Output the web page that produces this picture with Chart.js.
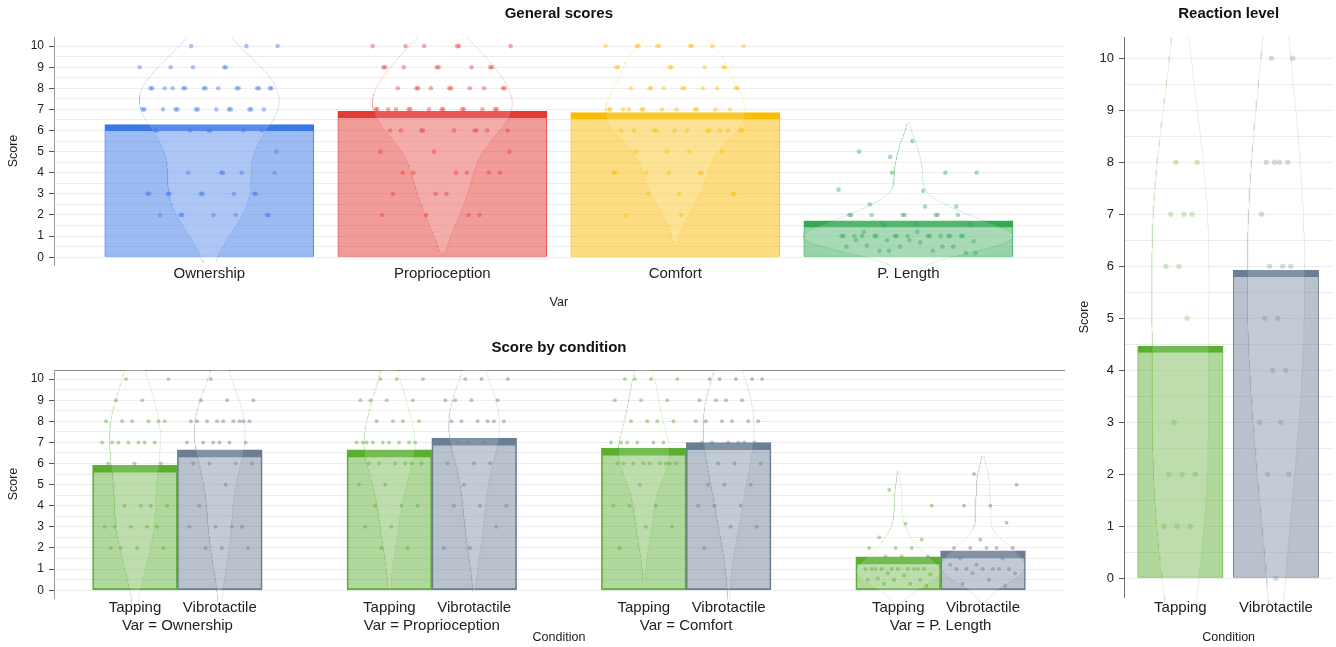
<!DOCTYPE html>
<html>
<head>
<meta charset="utf-8">
<title>Scores</title>
<script src="https://cdn.jsdelivr.net/npm/chart.js@4.4.1/dist/chart.umd.min.js"></script>
<style>
  html, body { margin: 0; padding: 0; background: #ffffff; }
  #wrap { position: relative; width: 1336px; height: 647px; overflow: hidden; }
  #wrap canvas { position: absolute; }
</style>
</head>
<body>
<div id="wrap">
  <canvas id="general" width="1066" height="320" style="left:0px;top:0px"></canvas>
  <canvas id="byCondition" width="1066" height="317" style="left:0px;top:330px"></canvas>
  <canvas id="reaction" width="270" height="647" style="left:1066px;top:0px"></canvas>
</div>
<script>
// ---- categories and tick labels ----
const varNames = ['Ownership', 'Proprioception', 'Comfort', 'P. Length'];
const conditionNames = ['Tapping', 'Vibrotactile'];
const scoreTicks = [0, 1, 2, 3, 4, 5, 6, 7, 8, 9, 10];

// ---- individual answers per variable and condition ----
const ownershipTapping = [10, 10, 9, 9, 8, 8, 8, 8, 8, 8, 7, 7, 7, 7, 7, 7, 7, 6, 6, 6, 4, 4, 4, 4, 3, 3, 3, 3, 3, 2, 2, 2, 2];
const ownershipVibrotactile = [10, 9, 9, 9, 8, 8, 8, 8, 8, 8, 8, 8, 8, 7, 7, 7, 7, 7, 7, 6, 6, 6, 6, 5, 4, 3, 3, 3, 3, 2, 2, 2];
const proprioceptionTapping = [10, 10, 10, 9, 9, 9, 9, 8, 8, 8, 8, 7, 7, 7, 7, 7, 7, 7, 7, 7, 6, 6, 6, 6, 6, 6, 5, 5, 4, 4, 4, 3, 3, 2, 2];
const proprioceptionVibrotactile = [10, 10, 10, 9, 9, 9, 9, 8, 8, 8, 8, 8, 8, 7, 7, 7, 7, 7, 6, 6, 6, 5, 4, 4, 4, 3, 2, 2];
const comfortTapping = [10, 10, 10, 10, 9, 9, 9, 8, 8, 8, 8, 7, 7, 7, 7, 7, 7, 6, 6, 6, 6, 6, 6, 6, 6, 6, 5, 4, 4, 4, 3, 3, 2];
const comfortVibrotactile = [10, 10, 10, 10, 10, 9, 9, 9, 9, 8, 8, 8, 8, 8, 8, 7, 7, 7, 7, 7, 7, 6, 6, 6, 5, 5, 5, 4, 4, 4, 3, 3, 2];
const lengthTapping = [4.75, 4.0, 3.15, 2.5, 2.4, 2.0, 2.0, 2.0, 1.6, 1.6, 1.6, 1.0, 1.0, 1.0, 1.0, 1.0, 1.0, 1.0, 1.0, 1.0, 1.0, 0.8, 0.75, 0.7, 0.55, 0.5, 0.5, 0.5, 0.3, 0.3, 0.2];
const lengthVibrotactile = [5.5, 5.0, 4.0, 4.0, 3.2, 2.4, 2.0, 2.0, 2.0, 2.0, 2.0, 1.5, 1.5, 1.2, 1.2, 1.0, 1.0, 1.0, 1.0, 1.0, 1.0, 0.8, 0.8, 0.5, 0.3, 0.2];
const reactionTapping = [8, 8, 7, 7, 7, 6, 6, 5, 3, 2, 2, 2, 1, 1, 1];
const reactionVibrotactile = [10, 10, 8, 8, 8, 8, 7, 6, 6, 6, 5, 5, 4, 4, 3, 3, 2, 2, 0];

// ---- bar heights (mean scores) ----
const generalMeans = [6.30, 6.93, 6.86, 1.74];
const tappingMeans = [5.92, 6.65, 6.73, 1.58];
const vibrotactileMeans = [6.65, 7.20, 6.99, 1.86];
const reactionMeans = [4.47, 5.93];

// ---- styling ----
const FONT = '"Liberation Sans", Arial, Helvetica, sans-serif';
const varColors = ['#3b78e7', '#e53935', '#fbbc04', '#34a853'];
const conditionColors = ['#5aae30', '#6a7e95'];
const conditionOffsets = [-1 / 6, 1 / 6];
const generalViolinWidth = [0.30, 0.30, 0.30, 0.45];
const conditionViolinWidth = [0.10, 0.10, 0.10, 0.165];
const reactionViolinWidth = 0.30;
const KDE_BANDWIDTH_SCALE = 1.35;   // smoothing factor applied to the rule-of-thumb bandwidth
const KDE_CUT = 1.5;                // how many bandwidths the outline extends past the data
const BAR_BORDER = { top: 7, right: 1, bottom: 1, left: 1 };

Chart.defaults.font.family = FONT;
Chart.defaults.color = '#222222';
Chart.defaults.animation = false;

function rgba(hex, a) {
  const n = parseInt(hex.slice(1), 16);
  return 'rgba(' + (n >> 16) + ',' + ((n >> 8) & 255) + ',' + (n & 255) + ',' + a + ')';
}

// integer ticks carry labels; half steps only add a grid line
const halfSteps = scoreTicks.flatMap(v => v < scoreTicks[scoreTicks.length - 1] ? [v, v + 0.5] : [v]);

// Gaussian kernel density of a group, mirrored around its category position
function violinOutline(values, center, halfWidth) {
  const n = values.length;
  const sorted = values.slice().sort((a, b) => a - b);
  const mean = sorted.reduce((s, v) => s + v, 0) / n;
  const sd = Math.sqrt(sorted.reduce((s, v) => s + (v - mean) * (v - mean), 0) / (n - 1));
  const quant = p => {
    const h = (n - 1) * p, lo = Math.floor(h);
    return sorted[lo] + (sorted[Math.min(lo + 1, n - 1)] - sorted[lo]) * (h - lo);
  };
  const iqr = quant(0.75) - quant(0.25);
  const spread = iqr > 0 ? Math.min(sd, iqr / 1.34) : sd;
  const bw = KDE_BANDWIDTH_SCALE * 1.06 * spread * Math.pow(n, -0.2);
  const lo = sorted[0] - KDE_CUT * bw, hi = sorted[n - 1] + KDE_CUT * bw;
  const steps = 120;
  const ys = [], ds = [];
  for (let k = 0; k <= steps; k++) {
    const y = lo + (hi - lo) * k / steps;
    let d = 0;
    for (const v of sorted) { const z = (y - v) / bw; d += Math.exp(-0.5 * z * z); }
    ys.push(y); ds.push(d);
  }
  const dMax = Math.max(...ds);
  const right = ys.map((y, k) => ({ x: center + halfWidth * ds[k] / dMax, y }));
  const left = ys.map((y, k) => ({ x: center - halfWidth * ds[k] / dMax, y })).reverse();
  return right.concat(left);
}

// evenly spread horizontal offsets so equal answers do not sit on top of each other
function stripPoints(values, center, spread) {
  return values.map((v, i) => ({ x: center + spread * (2 * ((i * 0.6180339887 + 0.37) % 1) - 1), y: v }));
}

function violinDataset(values, center, halfWidth, color, alpha, xAxisID) {
  return {
    type: 'line', xAxisID, yAxisID: 'y',
    data: violinOutline(values, center, halfWidth),
    borderColor: rgba(color, alpha), borderWidth: 1,
    backgroundColor: 'rgba(255,255,255,0.16)', fill: 'shape',
    pointRadius: 0, pointHitRadius: 0, tension: 0,
    clip: { left: 0, top: 0, right: 0, bottom: 10 },
    order: 2
  };
}

function pointDataset(values, center, spread, color, radius, alpha, xAxisID) {
  return {
    type: 'line', xAxisID, yAxisID: 'y',
    data: stripPoints(values, center, spread),
    showLine: false, fill: false,
    pointRadius: radius, pointBorderWidth: 0, pointHoverRadius: radius,
    pointBackgroundColor: rgba(color, alpha), backgroundColor: rgba(color, alpha),
    borderColor: 'rgba(0,0,0,0)',
    order: 1
  };
}

function scoreAxis(min, max, width, tickSize, titlePad, axisColor) {
  return {
    type: 'linear', position: 'left', min, max, bounds: 'data',
    afterBuildTicks: s => { s.ticks = halfSteps.map(v => ({ value: v })); },
    afterFit: s => { s.width = width; },
    ticks: {
      autoSkip: false, padding: 5, color: '#222222', font: { size: tickSize },
      callback: v => Number.isInteger(v) ? String(v) : ''
    },
    grid: {
      color: '#ececec', lineWidth: 1, drawTicks: true, tickLength: 5,
      tickColor: c => (c.tick && Number.isInteger(c.tick.value)) ? '#555555' : 'rgba(0,0,0,0)'
    },
    border: { display: true, color: axisColor, width: 1 },
    title: { display: true, text: 'Score', color: '#222222', font: { size: 12.5 }, padding: { top: titlePad, bottom: 0 } }
  };
}

function categoryAxis(min, max, positions, labels, height, pad, title, titleBottom, position) {
  return {
    type: 'linear', position: position || 'bottom', min, max, bounds: 'data', offset: false,
    afterBuildTicks: s => { s.ticks = positions.map(v => ({ value: v })); },
    afterFit: s => { s.height = height; },
    ticks: {
      autoSkip: false, maxRotation: 0, minRotation: 0, padding: pad,
      color: '#222222', font: { size: 15 },
      callback: (v, i) => labels[i]
    },
    grid: { display: false, drawTicks: false, offset: false },
    border: { display: false },
    title: title ? { display: true, text: title, color: '#222222', font: { size: 12.5 }, padding: { top: 0, bottom: titleBottom } } : { display: false }
  };
}

function baseOptions(titleText, titlePadTop, titlePadBottom, scales) {
  return {
    responsive: false, maintainAspectRatio: false, animation: false, events: [],
    layout: { padding: 0 },
    plugins: {
      legend: { display: false },
      tooltip: { enabled: false },
      title: {
        display: true, text: titleText, fullSize: false, color: '#111111',
        font: { size: 15, weight: 'bold' },
        padding: { top: titlePadTop, bottom: titlePadBottom }
      }
    },
    scales
  };
}

// ---- General scores ----
const generalGroups = [
  ownershipTapping.concat(ownershipVibrotactile),
  proprioceptionTapping.concat(proprioceptionVibrotactile),
  comfortTapping.concat(comfortVibrotactile),
  lengthTapping.concat(lengthVibrotactile)
];
const varPositions = varNames.map((_, i) => i);

new Chart(document.getElementById('general'), {
  type: 'bar',
  data: {
    datasets: [
      {
        type: 'bar', xAxisID: 'x', yAxisID: 'y',
        data: generalMeans.map((m, i) => ({ x: i, y: m })),
        backgroundColor: varColors.map(c => rgba(c, 0.5)),
        borderColor: varColors, borderWidth: BAR_BORDER, borderSkipped: false,
        grouped: false, barPercentage: 0.9, categoryPercentage: 1, order: 3
      },
      ...generalGroups.map((vals, i) => violinDataset(vals, i, generalViolinWidth[i], varColors[i], 0.2, 'x')),
      ...generalGroups.map((vals, i) => pointDataset(vals, i, 0.3, varColors[i], 2.3, 0.42, 'x'))
    ]
  },
  options: baseOptions('General scores', 5, 14, {
    x: categoryAxis(-2 / 3, 11 / 3, varPositions, varNames, 55, 0, 'Var', 9.5),
    y: scoreAxis(-0.37, 10.43, 54, 12, 6.5, '#9a9a9a')
  })
});

// ---- Score by condition ----
const conditionGroups = [
  [ownershipTapping, ownershipVibrotactile],
  [proprioceptionTapping, proprioceptionVibrotactile],
  [comfortTapping, comfortVibrotactile],
  [lengthTapping, lengthVibrotactile]
];
const conditionPositions = varNames.flatMap((_, i) => conditionOffsets.map(o => i + o));
const conditionLabels = varNames.flatMap(() => conditionNames);
const facetLabels = varNames.map(v => 'Var = ' + v);
const conditionMeans = [tappingMeans, vibrotactileMeans];

const conditionDatasets = [];
conditionMeans.forEach((means, c) => {
  conditionDatasets.push({
    type: 'bar', xAxisID: 'x', yAxisID: 'y',
    data: means.map((m, i) => ({ x: i + conditionOffsets[c], y: m })),
    backgroundColor: rgba(conditionColors[c], 0.48),
    borderColor: conditionColors[c], borderWidth: BAR_BORDER, borderSkipped: false,
    grouped: false, barPercentage: 1, categoryPercentage: 1, order: 3
  });
});
conditionGroups.forEach((pair, i) => pair.forEach((vals, c) => {
  conditionDatasets.push(violinDataset(vals, i + conditionOffsets[c], conditionViolinWidth[i], conditionColors[c], 0.16, 'x'));
}));
conditionGroups.forEach((pair, i) => pair.forEach((vals, c) => {
  conditionDatasets.push(pointDataset(vals, i + conditionOffsets[c], 0.135, conditionColors[c], 2, 0.45, 'x'));
}));

const byConditionScales = {
  x: categoryAxis(-0.485, 3.485, conditionPositions, conditionLabels, 19, 1, null, 0),
  x2: categoryAxis(-0.485, 3.485, varPositions, facetLabels, 30, 0, 'Condition', 1.5),
  xTop: {
    type: 'linear', position: 'top', min: -0.485, max: 3.485, bounds: 'data',
    afterFit: s => { s.height = 0; },
    ticks: { display: false }, grid: { display: false, drawTicks: false },
    border: { display: true, color: '#8a8a8a', width: 1 }
  },
  y: scoreAxis(-0.37, 10.43, 54, 12, 6.5, '#9a9a9a')
};

new Chart(document.getElementById('byCondition'), {
  type: 'bar',
  data: { datasets: conditionDatasets },
  options: baseOptions('Score by condition', 9, 13, byConditionScales)
});

// ---- Reaction level ----
const reactionGroups = [reactionTapping, reactionVibrotactile];
const reactionPositions = conditionNames.map((_, i) => i);

new Chart(document.getElementById('reaction'), {
  type: 'bar',
  data: {
    datasets: [
      {
        type: 'bar', xAxisID: 'x', yAxisID: 'y',
        data: reactionMeans.map((m, i) => ({ x: i, y: m })),
        backgroundColor: conditionColors.map(c => rgba(c, 0.48)),
        borderColor: conditionColors, borderWidth: BAR_BORDER, borderSkipped: false,
        grouped: false, barPercentage: 0.9, categoryPercentage: 1, order: 3
      },
      ...reactionGroups.map((vals, i) => violinDataset(vals, i, reactionViolinWidth, conditionColors[i], 0.16, 'x')),
      ...reactionGroups.map((vals, i) => pointDataset(vals, i, 0.18, conditionColors[i], 2.7, 0.28, 'x'))
    ]
  },
  options: baseOptions('Reaction level', 5, 14, {
    x: categoryAxis(-0.59, 1.6, reactionPositions, conditionNames, 50, 2, 'Condition', 1.5),
    y: scoreAxis(-0.36, 10.41, 58, 13, 11.5, '#6f6f6f')
  })
});
</script>
</body>
</html>
